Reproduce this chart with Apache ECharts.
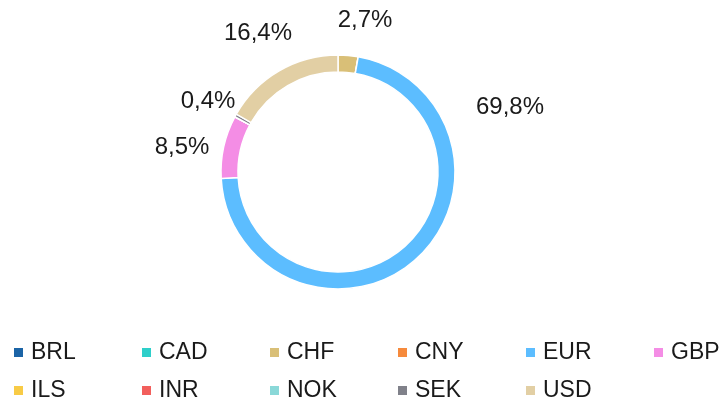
<!DOCTYPE html>
<html><head><meta charset="utf-8">
<script src="https://cdn.jsdelivr.net/npm/echarts@6/dist/echarts.min.js"></script>
<style>html,body{margin:0;padding:0;background:#fff}#c{width:721px;height:400px}</style>
</head><body><div id="c"></div>
<script>
const categories = ['BRL','CAD','CHF','CNY','EUR','GBP','ILS','INR','NOK','SEK','USD'];
const values = [0,0,2.7,0,69.8,8.5,0,0,0,0.4,16.4];
const colors = ['#1b64a6','#2ecfca','#d9bf77','#f68a3c','#5cbdff','#f48de5','#f8cb46','#f25f5c','#8ad8d8','#80818a','#e2cfa4'];
const legendRow1 = categories.slice(0,6);
const legendRow2 = categories.slice(6);

// label anchor points (text centres) as placed in the reference
const labelAnchors = {CHF:[365,20], EUR:[510,107], GBP:[182,147], SEK:[208,101], USD:[258,33]};

const FONT = 'Liberation Sans, Arial, Helvetica, sans-serif';
function legend(data, top){
  return {
    left: 12, top: top, width: 760, orient:'horizontal', padding: 0,
    itemWidth: 11, itemHeight: 11, itemGap: 55,
    icon: 'rect',
    formatter: n => '{a|' + n + '}',
    textStyle: {fontFamily: FONT, fontSize: 23, color:'#1a1a1a',
      rich: {a: {fontFamily: FONT, fontSize: 23, color:'#1a1a1a', width: 54, padding:[0,0,0,2], lineHeight: 24}}},
    data: data
  };
}
const chart = echarts.init(document.getElementById('c'));
chart.setOption({
  animation:false,
  color: colors,
  legend: [legend(legendRow1, 341), legend(legendRow2, 379)],
  series: [{
    type: 'pie',
    center: [338, 172],
    radius: [100, 117],
    startAngle: 90,
    clockwise: true,
    avoidLabelOverlap: false,
    itemStyle: {borderColor:'#fff', borderWidth:1.5},
    label: {
      show: true,
      formatter: p => String(p.value).replace('.', ',') + '%',
      fontFamily: FONT, fontSize: 24, color:'#1a1a1a'
    },
    labelLine: {show:false},
    labelLayout: function(params){
      const name = categories[params.dataIndex];
      const a = labelAnchors[name];
      if (!a) return {};
      return {x: a[0], y: a[1], align:'center', verticalAlign:'middle'};
    },
    data: categories.map((c,i)=>({name:c, value: values[i], label: {show: values[i] > 0}}))
  }]
});
</script></body></html>
